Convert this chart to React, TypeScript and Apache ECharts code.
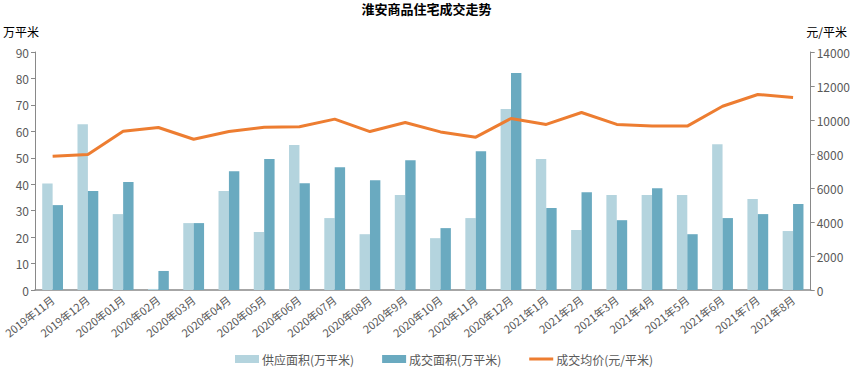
import React, { useEffect, useRef } from "react";
import * as echarts from "echarts";

const categories = [
  "2019年11月", "2019年12月", "2020年01月", "2020年02月", "2020年03月", "2020年04月",
  "2020年05月", "2020年06月", "2020年07月", "2020年08月", "2020年9月", "2020年10月",
  "2020年11月", "2020年12月", "2021年1月", "2021年2月", "2021年3月", "2021年4月",
  "2021年5月", "2021年6月", "2021年7月", "2021年8月",
];
const supplyArea = [40.3, 62.7, 28.7, 0.4, 25.3, 37.4, 21.9, 54.8, 27.2, 21.1, 35.9, 19.6, 27.2, 68.4, 49.5, 22.7, 35.9, 35.9, 35.9, 55.1, 34.4, 22.3];
const dealArea = [32.1, 37.4, 40.8, 7.2, 25.3, 44.9, 49.5, 40.4, 46.4, 41.5, 49.1, 23.4, 52.5, 82.1, 31.0, 37.0, 26.4, 38.5, 21.1, 27.2, 28.7, 32.5];
const avgPrice = [7870, 7970, 9340, 9560, 8870, 9320, 9580, 9600, 10050, 9320, 9850, 9300, 8990, 10090, 9740, 10440, 9740, 9640, 9640, 10810, 11500, 11320];

const FONT = "'Noto Sans CJK SC', 'Noto Sans', sans-serif";
const LINE_ICON = "path://M0,0L24,0L24,0.02L0,0.02Z M0,2.5L24,2.5L24,5.5L0,5.5Z M0,7.98L24,7.98L24,8L0,8Z";

export default function App() {
  const ref = useRef<HTMLDivElement>(null);
  useEffect(() => {
    if (!ref.current) return;
    const chart = echarts.init(ref.current, null, { renderer: "svg" });
    const axisLabel = { color: "#595959", fontSize: 12, fontFamily: FONT };
    chart.setOption({
      animation: false,
      backgroundColor: "#ffffff",
      textStyle: { fontFamily: FONT },
      title: {
        text: "淮安商品住宅成交走势",
        left: "center",
        top: 2,
        padding: 0,
        textStyle: { fontSize: 13, fontWeight: "bold", color: "#000", fontFamily: FONT },
      },
      grid: { left: 27, right: 40, top: 52, bottom: 80, containLabel: false },
      legend: {
        bottom: 0,
        left: 230,
        itemGap: 28,
        itemWidth: 24,
        itemHeight: 8,
        textStyle: { color: "#595959", fontSize: 12, fontFamily: FONT, padding: [0, 0, 0, -2] },
        data: [
          { name: "供应面积(万平米)", icon: "rect" },
          { name: "成交面积(万平米)", icon: "rect" },
          { name: "成交均价(元/平米)", icon: LINE_ICON, itemStyle: { color: "#ED7D31" } },
        ],
      },
      xAxis: {
        type: "category",
        data: categories,
        axisLine: { lineStyle: { color: "#898989", width: 1.5 } },
        axisTick: { show: false },
        axisLabel: { ...axisLabel, fontSize: 11, rotate: 38, interval: 0, margin: 8 },
      },
      yAxis: [
        {
          type: "value",
          name: "万平米",
          nameLocation: "end",
          nameGap: 15,
          nameTextStyle: { color: "#000", fontSize: 12, fontFamily: FONT, align: "center", padding: [0, 0, 0, -28] },
          min: 0,
          max: 90,
          interval: 10,
          splitLine: { show: false },
          axisLine: { show: true, lineStyle: { color: "#898989" } },
          axisTick: { show: true, length: 4, lineStyle: { color: "#898989" } },
          axisLabel: { ...axisLabel, margin: 6 },
        },
        {
          type: "value",
          name: "元/平米",
          nameLocation: "end",
          nameGap: 15,
          nameTextStyle: { color: "#000", fontSize: 12, fontFamily: FONT, align: "center", padding: [0, 0, 0, 32] },
          min: 0,
          max: 14000,
          interval: 2000,
          splitLine: { show: false },
          axisLine: { show: true, lineStyle: { color: "#898989" } },
          axisTick: { show: true, length: 4, lineStyle: { color: "#898989" } },
          axisLabel: { ...axisLabel, margin: 6, formatter: (v: number) => String(v) },
        },
      ],
      series: [
        {
          name: "供应面积(万平米)",
          type: "bar",
          data: supplyArea,
          barGap: "0%",
          barCategoryGap: "41%",
          itemStyle: { color: "#B4D4DE" },
        },
        {
          name: "成交面积(万平米)",
          type: "bar",
          data: dealArea,
          itemStyle: { color: "#6AAAC0" },
        },
        {
          name: "成交均价(元/平米)",
          type: "line",
          yAxisIndex: 1,
          data: avgPrice,
          symbol: "none",
          lineStyle: { color: "#ED7D31", width: 3 },
          itemStyle: { color: "#ED7D31" },
        },
      ],
    });
    return () => chart.dispose();
  }, []);
  return (
    <div
      ref={ref}
      style={{ position: "fixed", left: 0, top: 0, width: 853, height: 370 }}
    />
  );
}
